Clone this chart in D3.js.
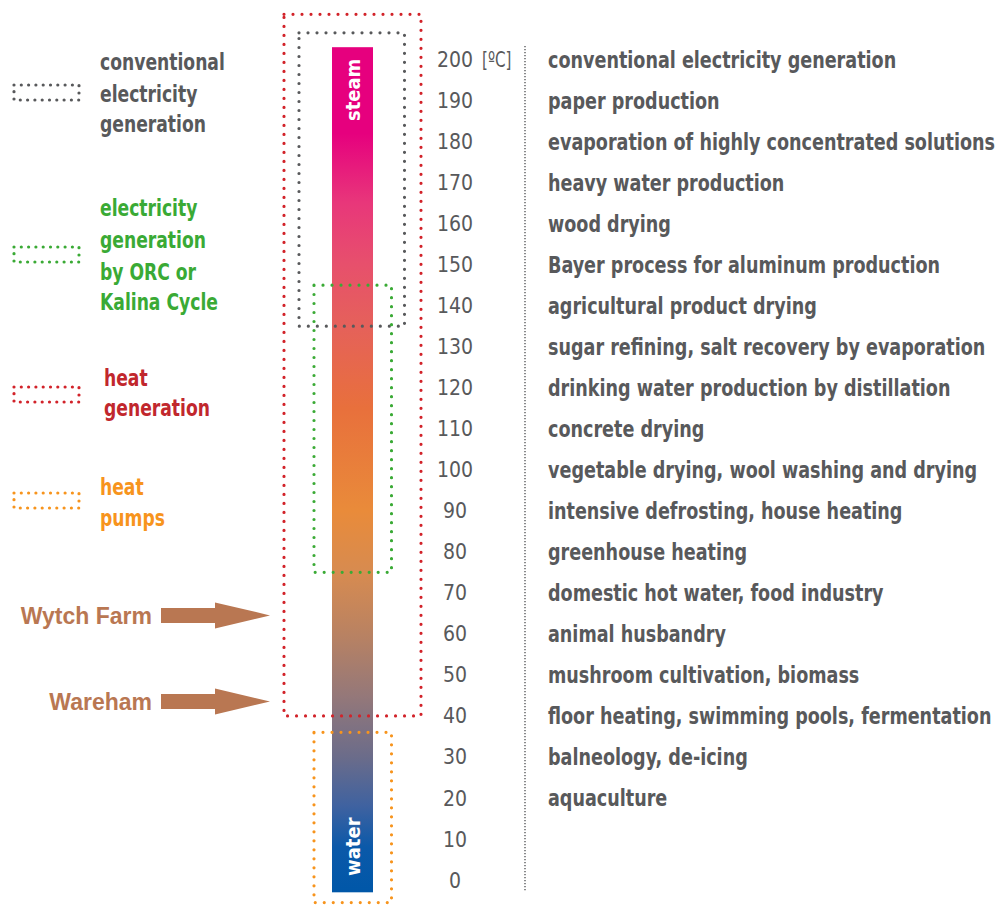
<!DOCTYPE html>
<html><head><meta charset="utf-8">
<script src="https://cdn.jsdelivr.net/npm/d3@7"></script>
<style>
html,body{margin:0;padding:0;background:#fff;}
svg{display:block;}
</style></head>
<body>
<svg id="c" width="997" height="906"></svg>
<script>
// ---- data ----
const tickTemps = [200,190,180,170,160,150,140,130,120,110,100,90,80,70,60,50,40,30,20,10,0];
const useTemps  = [200,190,180,170,160,150,140,130,120,110,100,90,80,70,60,50,40,30,20];
const useLabels = [
  "conventional electricity generation",
  "paper production",
  "evaporation of highly concentrated solutions",
  "heavy water production",
  "wood drying",
  "Bayer process for aluminum production",
  "agricultural product drying",
  "sugar refining, salt recovery by evaporation",
  "drinking water production by distillation",
  "concrete  drying",
  "vegetable drying, wool washing and drying",
  "intensive defrosting, house heating",
  "greenhouse heating",
  "domestic hot water, food industry",
  "animal husbandry",
  "mushroom cultivation, biomass",
  "floor heating, swimming pools, fermentation",
  "balneology, de-icing",
  "aquaculture"
];
const rangeNames = ["heat generation","conventional electricity generation","electricity generation by ORC or Kalina Cycle","heat pumps"];
const rangeLow   = [40, 135, 75, -5.5];
const rangeHigh  = [211, 206.5, 145, 36];
const rangeColors= ["#d2232a","#58595b","#3aaa35","#f7941d"];
const legendTextColors = ["#c1272d","#58595b","#3aaa35","#f7941d"];
const legendLines = [
  ["conventional","electricity","generation"],
  ["electricity","generation","by ORC or","Kalina Cycle"],
  ["heat","generation"],
  ["heat","pumps"]
];
const legendOrder = [1,2,0,3]; // index into ranges
const siteNames = ["Wytch Farm","Wareham"];
const siteTemps = [64.5, 43.5];
const barLow = -3, barHigh = 203;
const gradTemps  = [203,182,165,150,135,115,90,75,60,45,30,18,8,-3];
const gradColors = ["#e6007e","#e6007e","#e8377a","#e7506c","#e5615a","#e8703c","#e98b3a","#d78b50","#b98262","#957879","#6b6c8a","#3f62a0","#0b59a9","#0057a8"];

// ---- layout ----
const svg = d3.select("#c");
const y = d3.scaleLinear().domain([0,200]).range([880,59.5]);
const condensed = "'DejaVu Sans Condensed','DejaVu Sans',sans-serif";
const squeeze = 0.85;

// gradient
const defs = svg.append("defs");
const grad = defs.append("linearGradient").attr("id","g").attr("gradientUnits","userSpaceOnUse")
  .attr("x1",0).attr("x2",0).attr("y1",y(barHigh)).attr("y2",y(barLow));
grad.selectAll("stop").data(gradTemps).join("stop")
  .attr("offset",d=> (y(d)-y(barHigh))/(y(barLow)-y(barHigh)))
  .attr("stop-color",(d,i)=>gradColors[i]);

// bar
const barX = 332, barW = 41;
svg.append("rect").attr("x",barX).attr("width",barW)
  .attr("y",y(barHigh)).attr("height",y(barLow)-y(barHigh)).attr("fill","url(#g)");

svg.append("text").attr("transform",`translate(${barX+barW/2+7},${y(185)}) rotate(-90)`)
  .attr("fill","#fff").attr("font-family",condensed).attr("font-weight","bold").attr("font-size",20)
  .text("steam");
svg.append("text").attr("transform",`translate(${barX+barW/2+7},${y(1)}) rotate(-90)`)
  .attr("fill","#fff").attr("font-family",condensed).attr("font-weight","bold").attr("font-size",20)
  .text("water");

// range boxes
const boxX = [[284,421],[299,404.5],[314,391.5],[314,391.5]];
function dotted(sel){
  return sel.attr("fill","none").attr("stroke-width",3.2).attr("stroke-linecap","round")
    .attr("stroke-dasharray","0 9");
}
rangeNames.forEach((n,i)=>{
  dotted(svg.append("rect")).attr("x",boxX[i][0]).attr("width",boxX[i][1]-boxX[i][0])
    .attr("y",y(rangeHigh[i])).attr("height",y(rangeLow[i])-y(rangeHigh[i]))
    .attr("stroke",rangeColors[i]);
});

// ticks
svg.append("g").selectAll("text").data(tickTemps).join("text")
  .attr("x",455).attr("y",d=>y(d)).attr("dy","0.36em").attr("text-anchor","middle")
  .attr("font-family",condensed).attr("font-size",21).attr("fill","#58595b")
  .text(d=>d);
svg.append("g").attr("transform",`translate(482,0) scale(0.8,1)`)
  .append("text").attr("x",0).attr("y",y(200)).attr("dy","0.36em")
  .attr("font-family",condensed).attr("font-size",21).attr("fill","#58595b").text("[ºC]");

// separator
svg.append("line").attr("x1",525).attr("x2",525).attr("y1",46).attr("y2",892)
  .attr("stroke","#6d6e71").attr("stroke-width",1.6).attr("stroke-dasharray","1.2 1.8");

// use labels
svg.append("g").attr("transform",`translate(548,0) scale(${squeeze},1)`)
  .selectAll("text").data(useTemps).join("text")
  .attr("x",0).attr("y",d=>y(d)).attr("dy","0.36em")
  .attr("font-family",condensed).attr("font-weight","bold").attr("font-size",23).attr("fill","#58595b")
  .text((d,i)=>useLabels[i]);

// legend
const legBoxY = [85,247,387,493];
const legTextY = [[62,94,124],[208,240,272,302],[378,408],[487,518]];
const legTextX = [100,100,104,100];
legendOrder.forEach((ri,k)=>{
  dotted(svg.append("rect")).attr("x",14).attr("y",legBoxY[k]).attr("width",65).attr("height",15)
    .attr("stroke",rangeColors[ri]).attr("stroke-dasharray","0 7.3");
  svg.append("g").attr("transform",`translate(${legTextX[k]},0) scale(0.83,1)`)
    .selectAll("text").data(legendLines[k]).join("text")
    .attr("x",0).attr("y",(d,j)=>legTextY[k][j]).attr("dy","0.36em")
    .attr("font-family",condensed).attr("font-weight","bold").attr("font-size",23)
    .attr("fill",legendTextColors[ri])
    .text(d=>d);
});

// site arrows
const arrowColor = "#b97752";
siteNames.forEach((s,i)=>{
  const yy = y(siteTemps[i]);
  svg.append("path").attr("fill",arrowColor)
    .attr("d",`M161,${yy-7.5}H215V${yy-13}L270,${yy}L215,${yy+13}V${yy+7.5}H161Z`);
  svg.append("text").attr("x",152).attr("y",yy).attr("dy","0.36em").attr("text-anchor","end")
    .attr("font-family","'Liberation Sans',Arial,sans-serif").attr("font-weight","bold")
    .attr("font-size",23).attr("fill",arrowColor).text(s);
});
</script>
</body></html>
